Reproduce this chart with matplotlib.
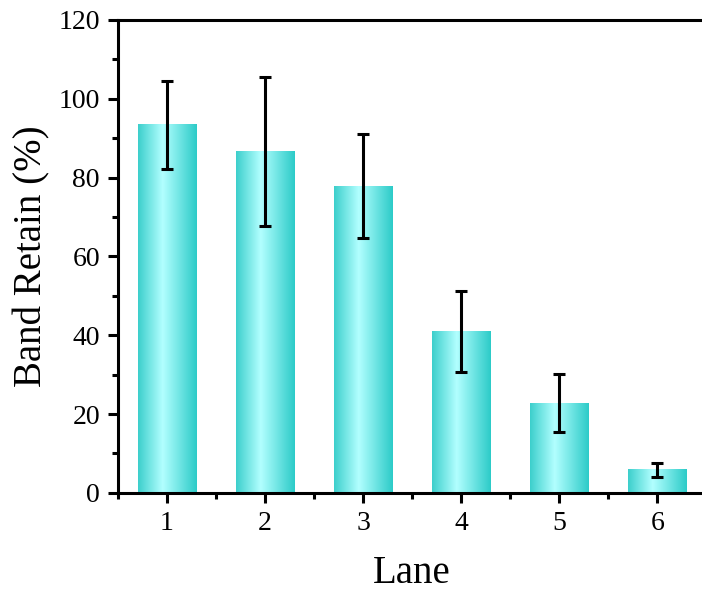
import numpy as np
import matplotlib
matplotlib.use("Agg")
import matplotlib.pyplot as plt
from matplotlib.colors import LinearSegmentedColormap
from matplotlib.ticker import MultipleLocator, FixedLocator

lanes = [1, 2, 3, 4, 5, 6]
retain = [93.4, 86.6, 77.8, 40.9, 22.8, 5.9]
err = [11.2, 18.8, 13.2, 10.3, 7.3, 1.8]

plt.rcParams['font.family'] = ['Liberation Serif', 'DejaVu Serif']

fig = plt.figure(figsize=(7.02, 6.04), dpi=100)
ax = fig.add_axes([0.168, 0.184, 0.838, 0.783])

grad = LinearSegmentedColormap.from_list(
    'cyanbar', [(0, '#3ccfcc'), (0.42, '#b2ffff'), (1, '#2ccbc8')])
g = np.linspace(0, 1, 256).reshape(1, -1)

width = 0.6
bars = ax.bar(lanes, retain, width=width, facecolor='none', edgecolor='none', zorder=2)
for b in bars:
    x0, y0 = b.get_x(), b.get_y()
    ax.imshow(g, cmap=grad, aspect='auto', zorder=2,
              extent=(x0, x0 + b.get_width(), y0, y0 + b.get_height()))

ax.errorbar(lanes, retain, yerr=err, fmt='none', ecolor='black',
            elinewidth=2.2, capsize=4.6, capthick=2.2, zorder=3)

ax.set_xlim(0.5, 6.5)
ax.set_ylim(0, 120)
ax.set_xticks(lanes)
ax.xaxis.set_minor_locator(FixedLocator([0.5, 1.5, 2.5, 3.5, 4.5, 5.5]))
ax.yaxis.set_major_locator(MultipleLocator(20))
ax.yaxis.set_minor_locator(MultipleLocator(10))

for s in ['left', 'bottom', 'top']:
    ax.spines[s].set_linewidth(2.2)
ax.spines['right'].set_visible(False)

ax.tick_params(which='major', direction='out', length=7, width=2.2, labelsize=20, pad=6)
ax.tick_params(which='minor', direction='out', length=4, width=2.2)
ax.tick_params(top=False, right=False, which='both')

ax.set_xlabel('Lane', fontsize=28, labelpad=14)
ax.set_ylabel('Band Retain (%)', fontsize=28, labelpad=6)

fig.savefig('out.png', dpi=100)
